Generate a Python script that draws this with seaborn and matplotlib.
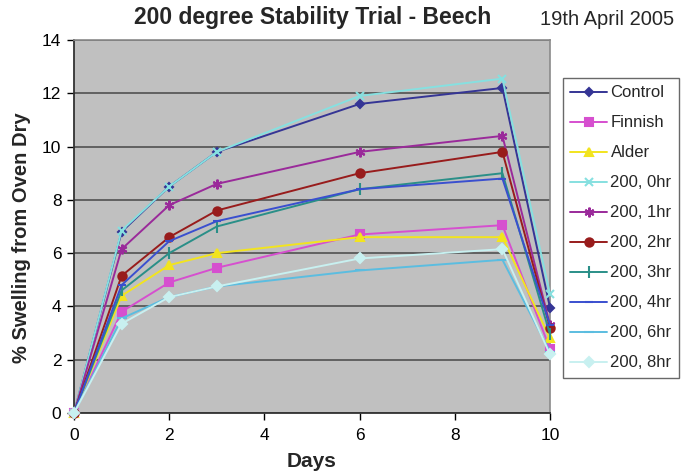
import matplotlib
matplotlib.use("Agg")
import matplotlib.pyplot as plt
import seaborn as sns
import pandas as pd

# Days on which swelling was measured
days = [0, 1, 2, 3, 6, 9, 10]

# % swelling from oven dry for each treatment
control = [0, 6.8, 8.5, 9.8, 11.6, 12.2, 3.95]
finnish = [0, 3.8, 4.9, 5.45, 6.7, 7.05, 2.4]
alder = [0, 4.4, 5.55, 6.0, 6.6, 6.6, 2.8]
h0 = [0, 6.85, 8.5, 9.8, 11.9, 12.55, 4.45]
h1 = [0, 6.15, 7.8, 8.6, 9.8, 10.4, 3.3]
h2 = [0, 5.15, 6.6, 7.6, 9.0, 9.8, 3.2]
h3 = [0, 4.6, 6.0, 7.0, 8.4, 9.0, 2.95]
h4 = [0, 4.8, 6.45, 7.2, 8.4, 8.8, 3.3]
h6 = [0, 3.55, 4.35, 4.75, 5.35, 5.75, 2.3]
h8 = [0, 3.35, 4.35, 4.75, 5.8, 6.15, 2.2]

series_names = ["Control", "Finnish", "Alder", "200, 0hr", "200, 1hr",
                "200, 2hr", "200, 3hr", "200, 4hr", "200, 6hr", "200, 8hr"]
series_values = [control, finnish, alder, h0, h1, h2, h3, h4, h6, h8]

colors = ["#353595", "#d64fcf", "#f2e41e", "#86e0e0", "#9a2a9a",
          "#981c1c", "#2a8f88", "#3a4fcf", "#5bbde0", "#c8f0f0"]
markers = ["D", "s", "^", "x", (6, 2, 0), "o", "|", "_", "_", "D"]
msizes = [4.5, 6, 6, 6, 7, 6, 8, 6, 7, 5]

rows = []
for name, vals in zip(series_names, series_values):
    for d, v in zip(days, vals):
        rows.append({"Days": d, "Swelling": v, "Series": name})
df = pd.DataFrame(rows)

sns.set_style("white")
plt.rcParams["font.family"] = ["Liberation Sans", "DejaVu Sans"]

fig = plt.figure(figsize=(6.82, 4.75), dpi=100)
ax = fig.add_axes([0.1085, 0.1305, 0.698, 0.7853])
ax.set_facecolor("#c0c0c0")

for name, c, m, ms in zip(series_names, colors, markers, msizes):
    sub = df[df["Series"] == name]
    sns.lineplot(data=sub, x="Days", y="Swelling", ax=ax, color=c,
                 marker=m, markersize=ms, markeredgecolor=c,
                 markeredgewidth=1.5, linewidth=1.4, label=name,
                 clip_on=False, zorder=3)

ax.set_xlim(0, 10)
ax.set_ylim(0, 14)
ax.set_xticks(range(0, 11, 2))
ax.set_yticks(range(0, 15, 2))
ax.yaxis.grid(True, color="#5a5a5a", linewidth=1.3, zorder=0)
ax.set_axisbelow(True)
ax.tick_params(axis="both", labelsize=12.5, length=5, width=1,
               direction="out", bottom=True, left=True, colors="black")
ax.tick_params(axis="x", pad=6)
ax.tick_params(axis="y", pad=4)

for side in ["left", "bottom"]:
    ax.spines[side].set_color("#333333")
    ax.spines[side].set_linewidth(1.3)
for side in ["top", "right"]:
    ax.spines[side].set_color("#8a8a8a")
    ax.spines[side].set_linewidth(1.2)

ax.set_xlabel("Days", fontsize=15, fontweight="bold")
ax.set_ylabel("% Swelling from Oven Dry", fontsize=14.5, fontweight="bold")
ax.xaxis.set_label_coords(0.5, -0.105)
ax.yaxis.set_label_coords(-0.09, 0.47)

fig.text(0.458, 0.963, "200 degree Stability Trial - Beech", ha="center",
         va="center", fontsize=16.5, fontweight="bold")
fig.text(0.89, 0.958, "19th April 2005", ha="center", va="center",
         fontsize=14.5)

leg = ax.legend(loc="upper left", bbox_to_anchor=(0.8255, 0.836),
                bbox_transform=fig.transFigure, fontsize=12,
                frameon=True, fancybox=False, handlelength=2.2,
                handletextpad=0.2, labelspacing=0.9, borderpad=0.45,
                borderaxespad=0)
leg.get_frame().set_edgecolor("#444444")
leg.get_frame().set_linewidth(1.0)

fig.savefig("out.png", dpi=100, facecolor="white")
